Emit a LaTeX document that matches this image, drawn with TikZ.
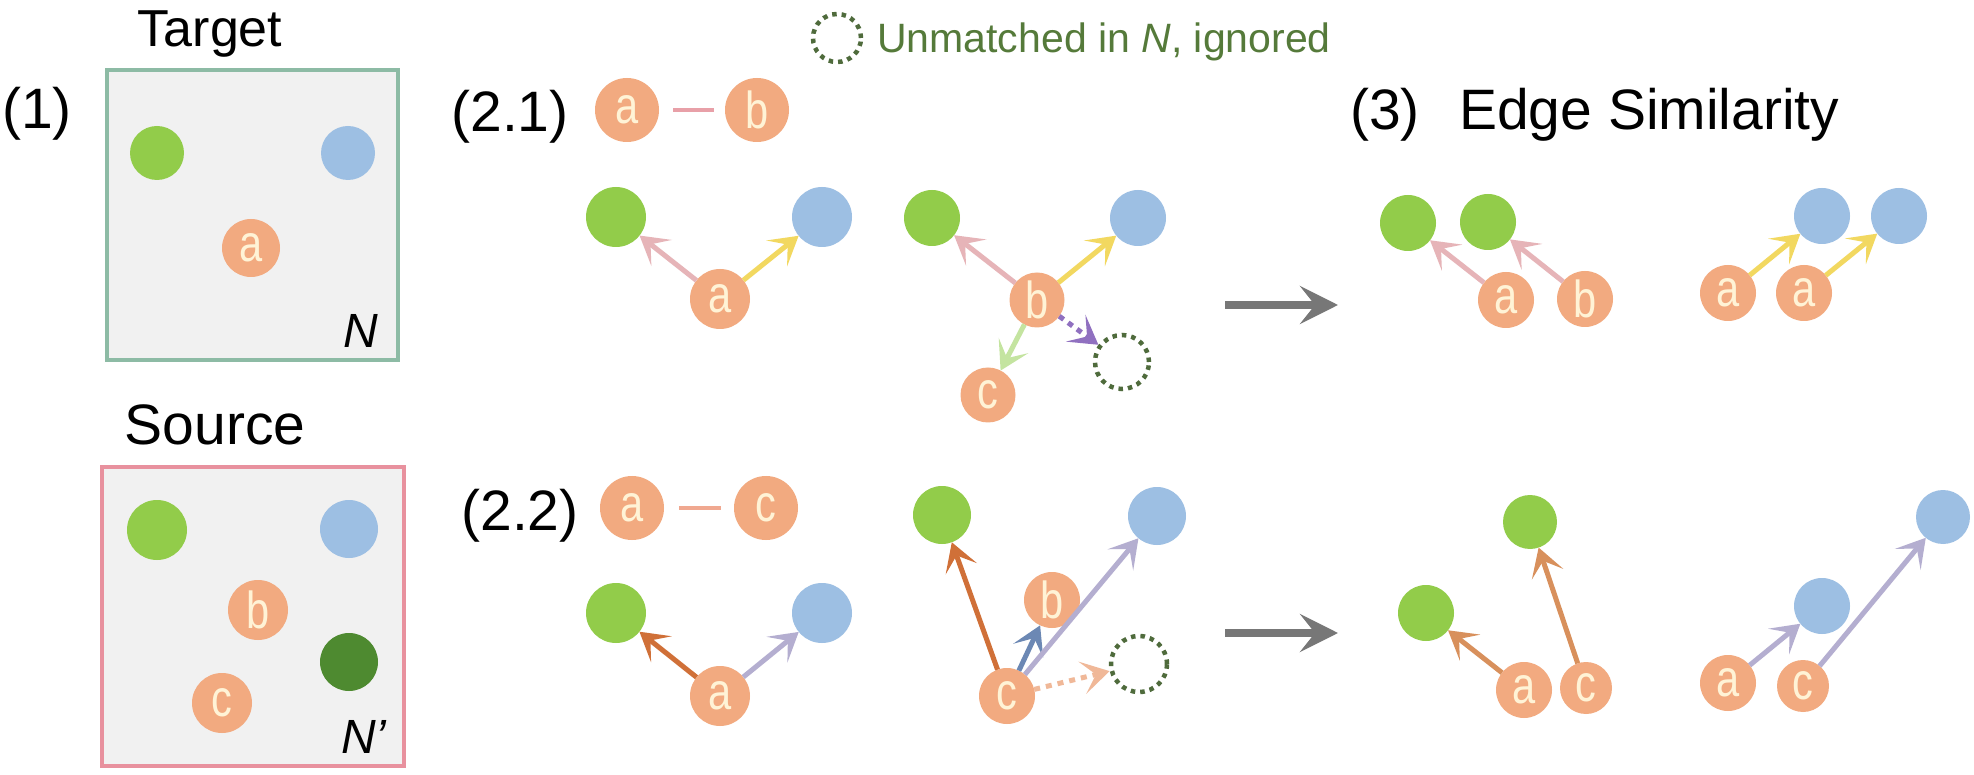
\documentclass[tikz,border=0pt]{standalone}
\usepackage{fontspec}
\setmainfont{Liberation Sans}
\newfontfamily\nodefont[FakeStretch=0.8]{Liberation Sans}
\usetikzlibrary{arrows.meta}
\definecolor{cOrange}{HTML}{F2AA80}
\definecolor{cCream}{HTML}{FFF3D6}
\definecolor{cGreen}{HTML}{92CC4A}
\definecolor{cBlue}{HTML}{9DBFE3}
\definecolor{cDark}{HTML}{4E8A30}
\definecolor{cGhost}{HTML}{4F6B3C}
\definecolor{cLegend}{HTML}{557A3A}
\definecolor{cPink}{HTML}{E6B4B8}
\definecolor{cYellow}{HTML}{F2D860}
\definecolor{cLGreen}{HTML}{C4E4A0}
\definecolor{cPurple}{HTML}{9070C0}
\definecolor{cDOrange}{HTML}{D07038}
\definecolor{cLav}{HTML}{B4AED0}
\definecolor{cSteel}{HTML}{6C88B4}
\definecolor{cSalmon}{HTML}{F0B898}
\definecolor{cROrange}{HTML}{D8905C}
\definecolor{cGray}{HTML}{777777}
\definecolor{cLinePink}{HTML}{E8A0A8}
\definecolor{cLineSalmon}{HTML}{F0A890}
\definecolor{cBoxT}{HTML}{8DBBA5}
\definecolor{cBoxS}{HTML}{E8919E}
\definecolor{cPanel}{HTML}{F1F1F1}
\begin{document}
\begin{tikzpicture}[x=1pt,y=-1pt,
  vx/.style={circle, inner sep=0pt, minimum size=#1, outer sep=0pt},
  vx/.default=58pt,
  on/.style={vx=#1, fill=cOrange, text=cCream, font={\nodefont\fontsize{52pt}{52pt}\selectfont}},
  on/.default=58pt,
  gn/.style={vx=#1, fill=cGreen}, gn/.default=58pt,
  bl/.style={vx=#1, fill=cBlue}, bl/.default=58pt,
  dg/.style={vx=#1, fill=cDark}, dg/.default=58pt,
  ghost/.style={circle, inner sep=0pt, minimum size=#1, draw=cGhost, line width=4.5pt, dash pattern=on 4.5pt off 5pt},
  ghost/.default=54pt,
  ar/.style={line width=5pt, draw=#1, -{Stealth[length=28pt,width=33pt,inset=14pt]}},
  dotar/.style={ar=#1, dash pattern=on 5.5pt off 5.5pt},
  big/.style={line width=8pt, draw=cGray, -{Stealth[length=38pt,width=38pt,inset=15pt]}},
  lbl/.style={inner sep=0pt, anchor=base, font=\fontsize{57pt}{60pt}\selectfont},
  box/.style={line width=4.5pt, fill=cPanel}
]
\useasboundingbox[fill=white] (0,0) rectangle (1974,775);

% ---------- (1) panels ----------
\node[lbl, font=\fontsize{52pt}{60pt}\selectfont] (tTarget) at (210,47) {Target};
\node[lbl] (tOne) at (37,129) {(1)};
\draw[box, draw=cBoxT] (107,70) rectangle (398,360);
\node[gn=54pt] (Tg) at (157,153) {};
\node[bl=54pt] (Tb) at (348,153) {};
\node[on] (Ta) at (251,248) {a};
\node[inner sep=0pt, anchor=base, font=\fontsize{48pt}{50pt}\selectfont\itshape] (tN) at (361,348) {N};

\node[lbl] (tSource) at (215,445) {Source};
\draw[box, draw=cBoxS] (102,467) rectangle (404,766);
\node[gn=60pt] (Sg) at (157,530) {};
\node[bl=58pt] (Sb) at (349,529) {};
\node[on=60pt] (Sbb) at (258,610) {b};
\node[dg=58pt] (Sd) at (349,662) {};
\node[on=60pt] (Sc) at (222,703) {c};
\node[inner sep=0pt, anchor=base, font=\fontsize{48pt}{50pt}\selectfont\itshape] (tNp) at (364,753) {N’};

% ---------- legend ----------
\node[ghost=48pt] (leg) at (837,38) {};
\node[inner sep=0pt, anchor=base west, text=cLegend, font=\fontsize{41pt}{45pt}\selectfont] (tLeg) at (877,53) {Unmatched in \textit{N}, ignored};

% ---------- (2.1) ----------
\node[lbl] (t21) at (510,132) {(2.1)};
\node[on=64pt] (p1a) at (627,110) {a};
\node[on=64pt] (p1b) at (757,110) {b};
\draw[line width=4.5pt, draw=cLinePink, shorten <=14pt, shorten >=11pt] (p1a) -- (p1b);

\node[gn=60pt] (A1g) at (616,217) {};
\node[bl=60pt] (A1b) at (822,217) {};
\node[on=60pt] (A1a) at (720,299) {a};
\draw[ar=cPink] (A1a) -- (A1g);
\draw[ar=cYellow] (A1a) -- (A1b);

\node[gn=56pt] (B1g) at (932,218) {};
\node[bl=56pt] (B1b) at (1138,218) {};
\node[on=55pt] (B1bb) at (1037,300) {b};
\node[on=55pt] (B1c) at (988,395) {c};
\node[ghost=54pt] (B1x) at (1122,362) {};
\draw[ar=cPink] (B1bb) -- (B1g);
\draw[ar=cYellow] (B1bb) -- (B1b);
\draw[ar=cLGreen] (B1bb) -- (B1c);
\draw[dotar=cPurple] (B1bb) -- (B1x);

% ---------- (2.2) ----------
\node[lbl] (t22) at (520,530) {(2.2)};
\node[on=64pt] (p2a) at (632,508) {a};
\node[on=64pt] (p2c) at (766,508) {c};
\draw[line width=4.5pt, draw=cLineSalmon, shorten <=15pt, shorten >=13pt] (p2a) -- (p2c);

\node[gn=60pt] (A2g) at (616,613) {};
\node[bl=60pt] (A2b) at (822,613) {};
\node[on=60pt] (A2a) at (720,696) {a};
\draw[ar=cDOrange] (A2a) -- (A2g);
\draw[ar=cLav] (A2a) -- (A2b);

\node[gn=58pt] (B2g) at (942,515) {};
\node[bl=58pt] (B2b) at (1157,516) {};
\node[on=56pt] (B2bb) at (1052,600) {b};
\node[on=56pt] (B2c) at (1007,696) {c};
\node[ghost=56pt] (B2x) at (1139,664) {};
\draw[ar=cDOrange] (B2c) -- (B2g);
\draw[ar=cSteel] (B2c) -- (B2bb);
\draw[ar=cLav] (B2c) -- (B2b);
\draw[dotar=cSalmon, dash pattern=on 6pt off 6pt] (B2c) -- (B2x);

% ---------- transition arrows ----------
\coordinate (G1s) at (1225,305);
\coordinate (G1e) at (1338,305);
\draw[big] (G1s) -- (G1e);
\coordinate (G2s) at (1225,633);
\coordinate (G2e) at (1338,633);
\draw[big] (G2s) -- (G2e);

% ---------- (3) ----------
\node[lbl] (t3) at (1385,130) {(3)};
\node[inner sep=0pt, anchor=base west, font=\fontsize{57pt}{60pt}\selectfont] (tES) at (1459,130) {Edge Similarity};

\node[gn=56pt] (R1g1) at (1408,223) {};
\node[gn=56pt] (R1g2) at (1488,222) {};
\node[on=56pt] (R1a) at (1506,300) {a};
\node[on=56pt] (R1b) at (1585,299) {b};
\draw[ar=cPink] (R1a) -- (R1g1);
\draw[ar=cPink] (R1b) -- (R1g2);

\node[bl=56pt] (R2b1) at (1822,216) {};
\node[bl=56pt] (R2b2) at (1899,216) {};
\node[on=56pt] (R2a1) at (1728,293) {a};
\node[on=56pt] (R2a2) at (1804,293) {a};
\draw[ar=cYellow] (R2a1) -- (R2b1);
\draw[ar=cYellow] (R2a2) -- (R2b2);

\node[gn=56pt] (R3g1) at (1426,613) {};
\node[gn=54pt] (R3g2) at (1530,522) {};
\node[on=56pt] (R3a) at (1524,690) {a};
\node[on=52pt] (R3c) at (1586,688) {c};
\draw[ar=cROrange] (R3a) -- (R3g1);
\draw[ar=cROrange] (R3c) -- (R3g2);

\node[bl=56pt] (R4b1) at (1822,606) {};
\node[bl=54pt] (R4b2) at (1943,517) {};
\node[on=56pt] (R4a) at (1728,683) {a};
\node[on=52pt] (R4c) at (1803,686) {c};
\draw[ar=cLav] (R4a) -- (R4b1);
\draw[ar=cLav] (R4c) -- (R4b2);
\end{tikzpicture}
\end{document}
